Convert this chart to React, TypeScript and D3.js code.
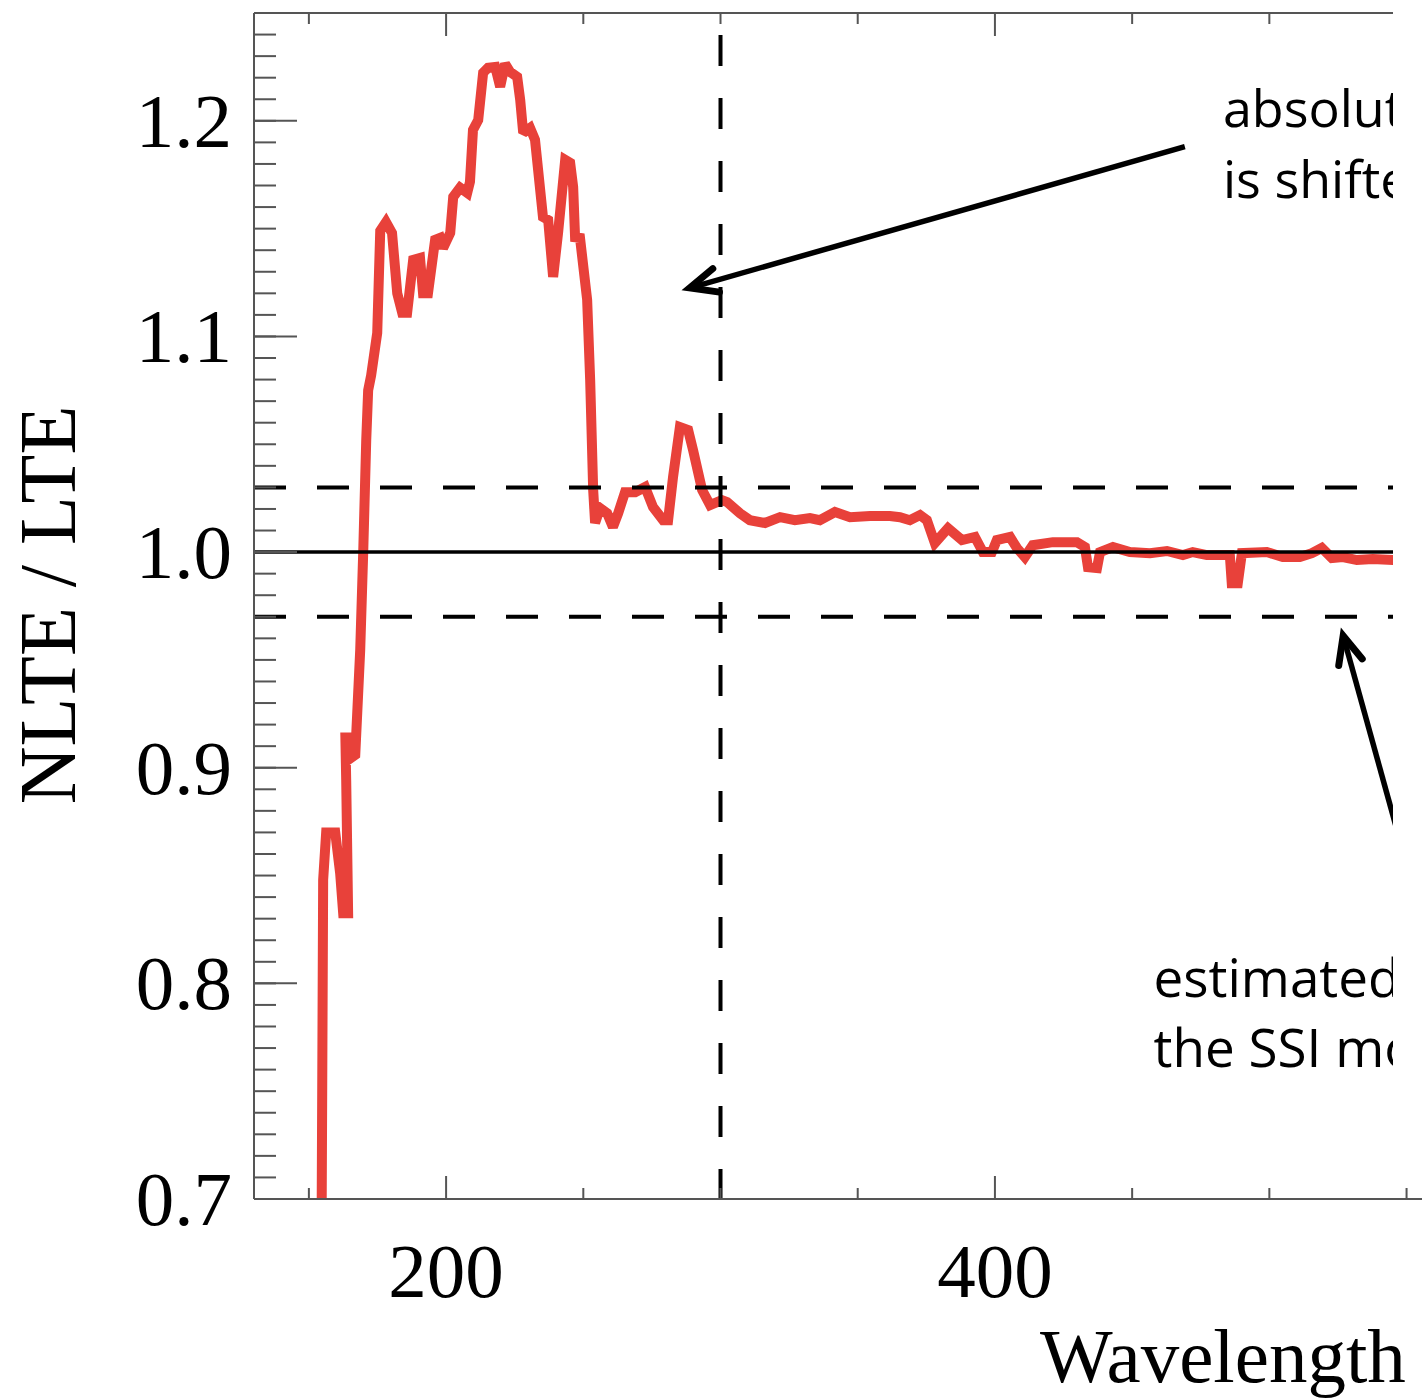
import React from "react";
import * as d3 from "d3";

// ---- data ----
const wavelength = [
  154.5, 155.2, 156.3, 159.6, 161.4, 162.5, 164.3, 163.6, 163.3, 164.7, 165.8, 166.9, 168.7, 169.8,
  170.9, 171.6, 172.7, 174.9, 176.0, 178.1, 180.3, 182.2, 184.0, 185.8, 188.0, 190.5, 191.6, 193.4,
  196.0, 197.8, 198.9, 201.5, 202.6, 205.1, 207.7, 208.7, 209.8, 211.7, 213.5, 215.3, 217.9, 219.7,
  221.5, 223.3, 225.9, 227.0, 228.1, 230.6, 232.4, 235.3, 237.2, 239.0, 240.8, 243.4, 245.2, 246.3,
  247.0, 248.8, 251.4, 252.5, 253.6, 254.3, 256.1, 258.7, 260.8, 262.7, 265.2, 268.9, 272.5, 275.4,
  279.1, 280.9, 282.7, 285.2, 288.2, 290.0, 293.3, 296.2, 300.5, 302.4, 307.1, 310.7, 316.2, 321.7,
  327.1, 332.6, 336.2, 341.7, 347.2, 354.5, 361.7, 365.4, 369.0, 372.7, 375.2, 378.1, 382.9, 388.0,
  392.7, 395.6, 398.9, 400.7, 405.5, 408.0, 410.9, 413.8, 421.1, 429.9, 432.8, 433.9, 437.2, 438.3,
  443.0, 449.2, 456.5, 462.7, 468.5, 472.1, 477.2, 485.6, 486.3, 488.5, 490.0, 499.1, 504.9, 511.1,
  515.5, 519.1, 522.8, 526.8, 531.9, 537.7, 545.0, 548.0,
];
const ratio = [
  0.65, 0.848, 0.870, 0.870, 0.851, 0.8325, 0.8325, 0.894, 0.914, 0.914, 0.905, 0.906, 0.9545, 1.0,
  1.052, 1.075, 1.082, 1.1016, 1.149, 1.153, 1.148, 1.120, 1.111, 1.111, 1.1355, 1.1364, 1.120, 1.120,
  1.1448, 1.1457, 1.141, 1.148, 1.1647, 1.169, 1.1666, 1.1717, 1.1958, 1.2004, 1.2223, 1.2246, 1.225, 1.2158,
  1.2264, 1.2227, 1.2204, 1.2097, 1.1944, 1.1967, 1.1912, 1.1554, 1.154, 1.1276, 1.148, 1.1819, 1.1805, 1.1694,
  1.146, 1.1457, 1.117, 1.0798, 1.0288, 1.0135, 1.0204, 1.018, 1.0116, 1.018, 1.0278, 1.0278, 1.0302, 1.0209,
  1.0148, 1.0148, 1.0348, 1.058, 1.0566, 1.0473, 1.0288, 1.0218, 1.0241, 1.0232, 1.018, 1.0148, 1.0135, 1.0162,
  1.0148, 1.0158, 1.0148, 1.0186, 1.0162, 1.0167, 1.0167, 1.0162, 1.0148, 1.0172, 1.0148, 1.0042, 1.0111, 1.0056,
  1.007, 1.0, 1.0, 1.0056, 1.007, 1.0019, 0.9977, 1.0032, 1.0046, 1.0046, 1.0023, 0.993, 0.9926, 1.0,
  1.0023, 1.0, 0.9995, 1.0005, 0.9986, 1.0, 0.9986, 0.9986, 0.9856, 0.9856, 0.9995, 1.0, 0.9977, 0.9977,
  0.9995, 1.0019, 0.9972, 0.9977, 0.9963, 0.9968, 0.9963, 0.9966,
];

const xMajorTicks = [200, 400];
const xMajorLabels = ["200", "400"];
const xMinorTicks = [150, 250, 300, 350, 450, 500, 550];
const yMajorTicks = [0.7, 0.8, 0.9, 1.0, 1.1, 1.2];
const yMajorLabels = ["0.7", "0.8", "0.9", "1.0", "1.1", "1.2"];
const yMinorTicks = d3.range(70, 126).map((v) => v / 100);
const bandLevels = [1.03, 0.97];
const unityLevel = 1.0;
const cutWavelength = 300;

const xTitle = "Wavelength";
const yTitle = "NLTE / LTE";
const noteTop = ["absolute", "is shifted"];
const noteBottom = ["estimated", "the SSI models"];
// annotation anchors in data units [wavelength, ratio]
const arrowTopTail = [469.2, 1.188];
const arrowTopTip = [288.8, 1.1225];
const arrowBottomTail = [548.5, 0.862];
const arrowBottomTip = [526.9, 0.9612];
const noteTopAnchor = [483.1, 1.197];
const noteBottomAnchor = [457.8, 0.7935];

const W = 1422;
const H = 1398;
const serif = "'Liberation Serif', 'Times New Roman', serif";
const sans = "'Open Sans', 'Noto Sans', sans-serif";

export default function App() {
  const x = d3.scaleLinear().domain([130, 560]).range([254, 1434]);
  const y = d3.scaleLinear().domain([0.7, 1.25]).range([1199, 13]);
  const left = x(130);
  const top = y(1.25);
  const bottom = y(0.7);
  const clipRight = 1393;

  const pts = wavelength.map((w, i) => [w, ratio[i]] as [number, number]);
  const line = d3
    .line<[number, number]>()
    .x((d) => x(d[0]))
    .y((d) => y(d[1]));

  const arrow = (tail: number[], tip: number[]) => {
    const x1 = x(tail[0]), y1 = y(tail[1]);
    const x2 = x(tip[0]), y2 = y(tip[1]);
    const a = Math.atan2(y1 - y2, x1 - x2);
    const len = 30;
    const spread = (24 * Math.PI) / 180;
    const ax = x2 + len * Math.cos(a + spread);
    const ay = y2 + len * Math.sin(a + spread);
    const bx = x2 + len * Math.cos(a - spread);
    const by = y2 + len * Math.sin(a - spread);
    return (
      <g stroke="#000" fill="none">
        <line x1={x1} y1={y1} x2={x2 + 3 * Math.cos(a)} y2={y2 + 3 * Math.sin(a)} strokeWidth={5.5} />
        <polyline
          points={`${ax},${ay} ${x2},${y2} ${bx},${by}`}
          strokeWidth={7}
          strokeLinecap="round"
          strokeLinejoin="miter"
        />
      </g>
    );
  };

  const axisColor = "#555";

  return (
    <svg
      width={W}
      height={H}
      viewBox={`0 0 ${W} ${H}`}
      style={{ position: "absolute", left: 0, top: 0, background: "#fff" }}
    >
      <defs>
        <clipPath id="visible">
          <rect x={0} y={0} width={clipRight} height={H} />
        </clipPath>
        <clipPath id="plot">
          <rect x={left} y={top} width={clipRight - left} height={bottom - top} />
        </clipPath>
      </defs>
      <rect x={0} y={0} width={W} height={H} fill="#fff" />

      {/* data line */}
      <g clipPath="url(#plot)">
        <path
          d={line(pts) || ""}
          fill="none"
          stroke="#e8413a"
          strokeWidth={10}
          strokeLinejoin="miter"
          strokeMiterlimit={2}
        />
      </g>

      <g clipPath="url(#visible)">
        {/* reference lines */}
        {bandLevels.map((v) => (
          <line
            key={v}
            x1={left}
            x2={W}
            y1={y(v)}
            y2={y(v)}
            stroke="#000"
            strokeWidth={4}
            strokeDasharray="32,31"
          />
        ))}
        <line x1={left} x2={W} y1={y(unityLevel)} y2={y(unityLevel)} stroke="#000" strokeWidth={3.5} />
        <line
          x1={x(cutWavelength)}
          x2={x(cutWavelength)}
          y1={y(1.2398)}
          y2={bottom}
          stroke="#000"
          strokeWidth={4}
          strokeDasharray="31,32"
        />

        {/* top frame and top ticks */}
        <line x1={left} x2={W} y1={top} y2={top} stroke={axisColor} strokeWidth={2} />
        {xMajorTicks.map((t) => (
          <line key={"tM" + t} x1={x(t)} x2={x(t)} y1={top} y2={top + 23} stroke={axisColor} strokeWidth={2} />
        ))}
        {xMinorTicks.map((t) => (
          <line key={"tm" + t} x1={x(t)} x2={x(t)} y1={top} y2={top + 11} stroke={axisColor} strokeWidth={2} />
        ))}

        {/* annotations */}
        {arrow(arrowTopTail, arrowTopTip)}
        {arrow(arrowBottomTail, arrowBottomTip)}
        <text fontFamily={sans} fontSize={52} fill="#000">
          {noteTop.map((s, i) => (
            <tspan key={s} x={x(noteTopAnchor[0])} y={y(noteTopAnchor[1]) + i * 71}>
              {s}
            </tspan>
          ))}
        </text>
        <text fontFamily={sans} fontSize={53} fill="#000">
          {noteBottom.map((s, i) => (
            <tspan key={s} x={x(noteBottomAnchor[0])} y={y(noteBottomAnchor[1]) + i * 70}>
              {s}
            </tspan>
          ))}
        </text>
      </g>

      {/* left axis */}
      <line x1={left} x2={left} y1={top} y2={bottom} stroke={axisColor} strokeWidth={2} />
      {yMinorTicks.map((t) => (
        <line key={"ym" + t} x1={left} x2={left + 22} y1={y(t)} y2={y(t)} stroke={axisColor} strokeWidth={2} />
      ))}
      {yMajorTicks.map((t) => (
        <line key={"yM" + t} x1={left} x2={left + 43} y1={y(t)} y2={y(t)} stroke={axisColor} strokeWidth={2} />
      ))}
      {yMajorTicks.map((t, i) => (
        <text
          key={"yl" + t}
          x={232}
          y={y(t) + 26}
          textAnchor="end"
          fontFamily={serif}
          fontSize={77}
          fill="#000"
        >
          {yMajorLabels[i]}
        </text>
      ))}

      {/* bottom axis */}
      <line x1={left} x2={W} y1={bottom} y2={bottom} stroke={axisColor} strokeWidth={2} />
      {xMajorTicks.map((t) => (
        <line key={"bM" + t} x1={x(t)} x2={x(t)} y1={bottom} y2={bottom - 23} stroke={axisColor} strokeWidth={2} />
      ))}
      {xMinorTicks.map((t) => (
        <line key={"bm" + t} x1={x(t)} x2={x(t)} y1={bottom} y2={bottom - 11} stroke={axisColor} strokeWidth={2} />
      ))}
      {xMajorTicks.map((t, i) => (
        <text
          key={"xl" + t}
          x={x(t)}
          y={1297}
          textAnchor="middle"
          fontFamily={serif}
          fontSize={77}
          fill="#000"
        >
          {xMajorLabels[i]}
        </text>
      ))}

      {/* axis titles */}
      <text x={1040} y={1382} fontFamily={serif} fontSize={77} fill="#000">
        {xTitle}
      </text>
      <text
        transform={`translate(75, 605) rotate(-90)`}
        textAnchor="middle"
        fontFamily={serif}
        fontSize={80}
        fontWeight={500}
        fill="#000"
      >
        {yTitle}
      </text>
    </svg>
  );
}
